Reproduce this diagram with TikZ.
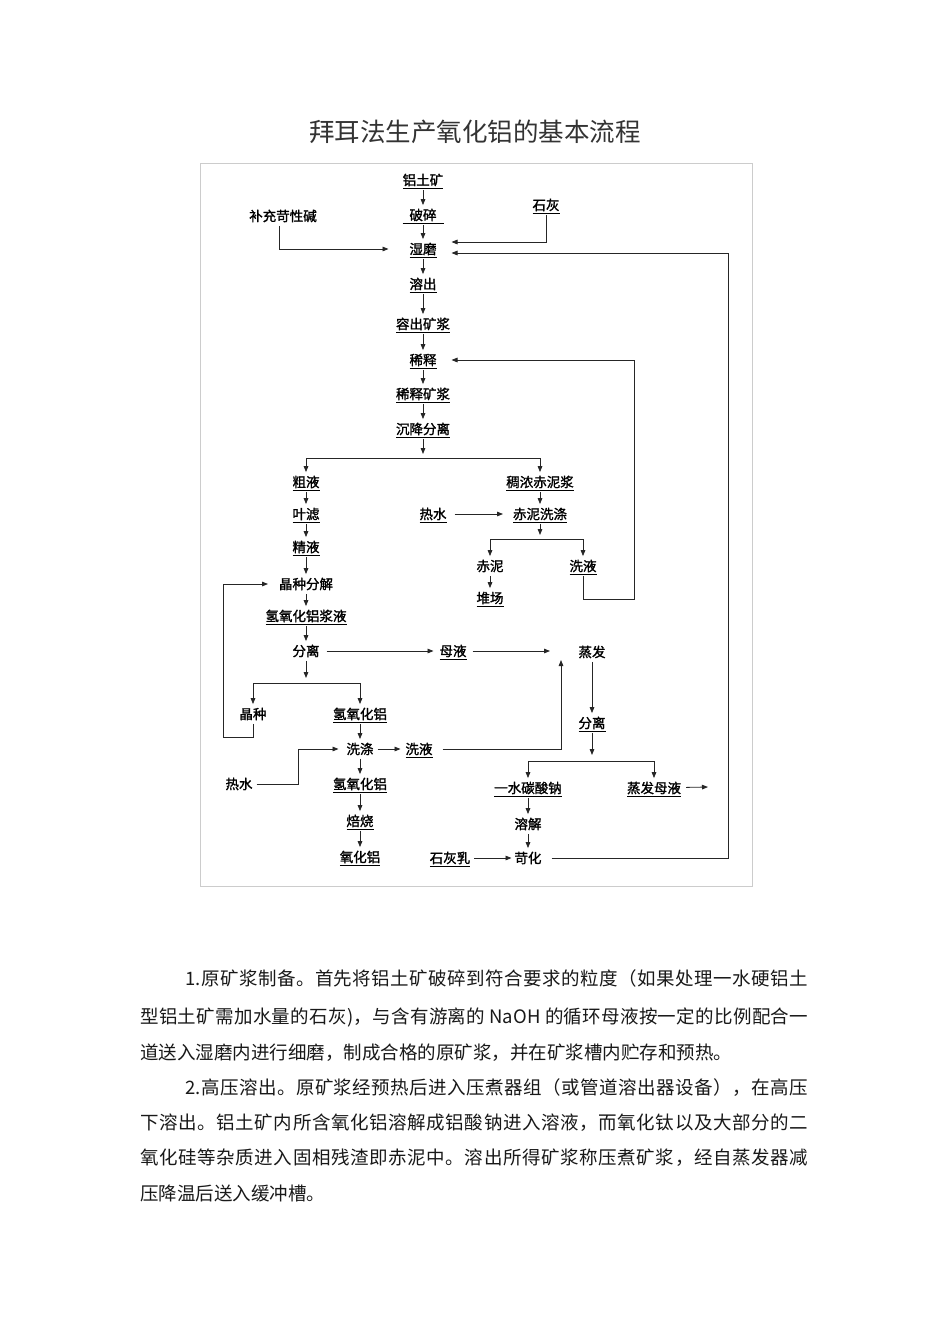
\documentclass[tikz,border=0pt]{standalone}
\usepackage{fontspec}
\usetikzlibrary{arrows.meta}
\newfontfamily\cjk{Noto Sans CJK SC}
\newfontfamily\cjkb[FakeBold=1.5]{Noto Sans CJK SC}
\newcommand\ulc[1]{\setbox0\hbox{#1}\rlap{\rule[-3.6pt]{\wd0}{0.9pt}}\box0}
\ExplSyntaxOn
\NewDocumentCommand\spreadline{mm}{\makebox[#1][s]{\tl_map_inline:nn{#2}{##1\hfil}\unskip}}
\ExplSyntaxOff
\begin{document}
\begin{tikzpicture}[x=1pt,y=-1pt,
  lbl/.style={font=\cjkb\fontsize{13.5}{14}\selectfont, text=black, text height=12pt, text depth=1.8pt, inner xsep=2pt, inner ysep=3pt, outer sep=0pt},
  arr/.style={draw=black!85, line width=0.8pt, -{Triangle[length=6pt,width=4.6pt]}},
  body/.style={font=\cjk\fontsize{18.5}{20}\selectfont, text=black!90, anchor=base west, inner sep=0pt},
  titlestyle/.style={font=\cjk\fontsize{25.5}{27}\selectfont, text=black!80, inner sep=0pt}
]
\fill[white] (0,0) rectangle (950,1344);
\useasboundingbox (0,0) rectangle (950,1344);

% title
\node[titlestyle] (title) at (475,132) {拜耳法生产氧化铝的基本流程};

% frame
\draw[gray!40, line width=1pt] (200,163) rectangle (752,886);

% nodes
\node[lbl] (n1) at (423,180) {\ulc{铝土矿}};
\node[lbl] (n2) at (423,215) {\ulc{\makebox[41pt]{破碎}}};
\node[lbl] (bc) at (283,216) {补充苛性碱};
\node[lbl] (sh) at (546,205) {\ulc{石灰}};
\node[lbl] (wm) at (423,249) {\ulc{湿磨}};
\node[lbl] (rc) at (423,284) {\ulc{溶出}};
\node[lbl] (rckj) at (423,324) {\ulc{容出矿浆}};
\node[lbl] (xs) at (423,360) {\ulc{稀释}};
\node[lbl] (xskj) at (423,394) {\ulc{稀释矿浆}};
\node[lbl] (cjfl) at (423,429) {\ulc{沉降分离}};
\node[lbl] (cy) at (306,482) {\ulc{粗液}};
\node[lbl] (cnz) at (540,482) {\ulc{稠浓赤泥浆}};
\node[lbl] (yl) at (306,514) {\ulc{叶滤}};
\node[lbl] (rs1) at (433,514) {\ulc{热水}};
\node[lbl] (cnxd) at (540,514) {\ulc{赤泥洗涤}};
\node[lbl] (jy) at (306,547) {\ulc{精液}};
\node[lbl] (cn) at (490,566) {赤泥};
\node[lbl] (xy1) at (583,566) {\ulc{洗液}};
\node[lbl] (dc) at (490,598) {\ulc{堆场}};
\node[lbl] (jzfj) at (306,584) {晶种分解};
\node[lbl] (qyhlj) at (306,616) {\ulc{氢氧化铝浆液}};
\node[lbl] (fl) at (306,651) {分离};
\node[lbl] (my) at (453,651) {\ulc{母液}};
\node[lbl] (zf) at (592,652) {蒸发};
\node[lbl] (jz) at (253,714) {晶种};
\node[lbl] (qy1) at (360,714) {\ulc{氢氧化铝}};
\node[lbl] (xd) at (360,749) {洗涤};
\node[lbl] (xy2) at (419,749) {\ulc{洗液}};
\node[lbl] (rs2) at (239,784) {热水};
\node[lbl] (qy2) at (360,784) {\ulc{氢氧化铝}};
\node[lbl] (bs) at (360,821) {\ulc{焙烧}};
\node[lbl] (yhl) at (360,857) {\ulc{氧化铝}};
\node[lbl] (fl2) at (592,723) {\ulc{分离}};
\node[lbl] (ys) at (528,788) {\ulc{一水碳酸钠}};
\node[lbl] (zfmy) at (654,788) {\ulc{蒸发母液}};
\node[lbl] (rj) at (528,824) {溶解};
\node[lbl] (shr) at (450,858) {\ulc{石灰乳}};
\node[lbl] (kh) at (528,858) {苛化};

% helper coordinates
\coordinate (b1) at (423,454);
\coordinate (b2) at (423,458);
\coordinate (b3) at (540,535);
\coordinate (b4) at (540,539);
\coordinate (b5) at (306,678);
\coordinate (b6) at (306,683);
\coordinate (b7) at (592,755);
\coordinate (b8) at (592,761);
\coordinate (cR) at (728,253);
\coordinate (cL) at (634,599);
\coordinate (cJ) at (223,737);
\coordinate (cK) at (298,749);
\coordinate (e1) at (550,651);
\coordinate (e2) at (561,660);
\coordinate (e3) at (708,787);

% connectors
\draw[arr] (n1) -- (n2);
\draw[arr] (n2) -- (wm);
\draw[arr, shorten >=19pt] ([xshift=-4pt]bc.south) |- (wm);
\draw[arr, shorten >=13pt] (sh) |- ([yshift=7pt]wm.east);
\draw[arr, shorten <=8pt, shorten >=13pt] (kh.east) -| (cR) |- ([yshift=-4pt]wm.east);
\draw[arr] (wm) -- (rc);
\draw[arr] (rc) -- (rckj);
\draw[arr] (rckj) -- (xs);
\draw[arr] (xs) -- (xskj);
\draw[arr] (xskj) -- (cjfl);
\draw[arr] (cjfl) -- (b1);
\draw[arr] (b2) -| (cy);
\draw[arr] (b2) -| (cnz);
\draw[arr] (cy) -- (yl);
\draw[arr] (yl) -- (jy);
\draw[arr] (jy) -- (jzfj);
\draw[arr] (cnz) -- (cnxd);
\draw[arr, shorten <=6pt, shorten >=8pt] (rs1) -- (cnxd);
\draw[arr] (cnxd) -- (b3);
\draw[arr] (b4) -| (cn);
\draw[arr] (b4) -| (xy1);
\draw[arr] (cn) -- (dc);
\draw[arr, shorten >=13pt] (xy1) |- (cL) |- (xs);
\draw[arr] (jzfj) -- (qyhlj);
\draw[arr] (qyhlj) -- (fl);
\draw[arr, shorten <=5pt, shorten >=4pt] (fl) -- (my);
\draw[arr, shorten <=4pt] (my) -- (e1);
\draw[arr] (fl) -- (b5);
\draw[arr] (b6) -| (jz);
\draw[arr] (b6) -| (qy1);
\draw[arr, shorten >=9pt] (jz) |- (cJ) |- (jzfj);
\draw[arr] (qy1) -- (xd);
\draw[arr, shorten <=2pt, shorten >=3pt] (xd) -- (xy2);
\draw[arr, shorten <=2pt, shorten >=6pt] (rs2) -| (cK) -- (xd);
\draw[arr, shorten <=8pt] (xy2) -| (e2);
\draw[arr] (xd) -- (qy2);
\draw[arr] (qy2) -- (bs);
\draw[arr] (bs) -- (yhl);
\draw[arr] (zf) -- (fl2);
\draw[arr] (fl2) -- (b7);
\draw[arr] (b8) -| (ys);
\draw[arr] (b8) -| (zfmy);
\draw[arr] (ys) -- (rj);
\draw[arr] (rj) -- (kh);
\draw[arr, shorten <=2pt, shorten >=1pt] (shr) -- (kh);
\draw[arr, shorten <=3pt] (zfmy) -- (e3);

% body text
\node[body] (p1a) at (185,985) {\spreadline{623pt}{{1.}原矿浆制备。首先将铝土矿破碎到符合要求的粒度（如果处理一水硬铝土}};
\node[body] (p1b) at (140,1023) {\spreadline{668pt}{型铝土矿需加水量的石灰)，与含有游离的{ NaOH }的循环母液按一定的比例配合一}};
\node[body] (p1c) at (140,1059) {道送入湿磨内进行细磨，制成合格的原矿浆，并在矿浆槽内贮存和预热。};
\node[body] (p2a) at (185,1094) {\spreadline{623pt}{{2.}高压溶出。原矿浆经预热后进入压煮器组（或管道溶出器设备），在高压}};
\node[body] (p2b) at (140,1129) {\spreadline{668pt}{下溶出。铝土矿内所含氧化铝溶解成铝酸钠进入溶液，而氧化钛以及大部分的二}};
\node[body] (p2c) at (140,1164) {\spreadline{668pt}{氧化硅等杂质进入固相残渣即赤泥中。溶出所得矿浆称压煮矿浆，经自蒸发器减}};
\node[body] (p2d) at (140,1200) {压降温后送入缓冲槽。};
\end{tikzpicture}
\end{document}
